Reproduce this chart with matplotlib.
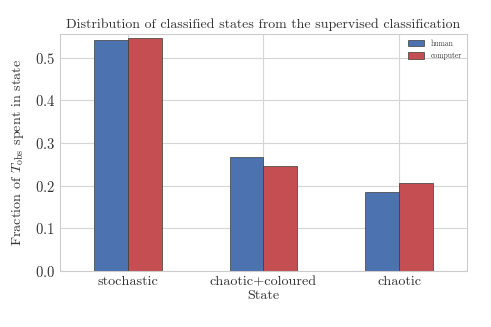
import matplotlib
matplotlib.use('Agg')
import matplotlib.pyplot as plt
import numpy as np

plt.style.use('seaborn-v0_8-whitegrid')
plt.rcParams['font.family'] = ['cmr10']
plt.rcParams['mathtext.fontset'] = 'cm'
plt.rcParams['axes.formatter.use_mathtext'] = True
plt.rcParams['axes.unicode_minus'] = False

states = ['stochastic', 'chaotic+coloured', 'chaotic']
human = [0.542, 0.266, 0.186]
computer = [0.545, 0.245, 0.206]

fig = plt.figure(figsize=(4.91, 3.27), dpi=100)
ax = fig.add_axes([0.122, 0.171, 0.829, 0.725])

x = np.arange(len(states))
w = 0.25
ax.bar(x - w / 2, human, w, color='#4C72B0', edgecolor='#3a3a3a', linewidth=0.5, label='human', zorder=2)
ax.bar(x + w / 2, computer, w, color='#C44E52', edgecolor='#3a3a3a', linewidth=0.5, label='computer', zorder=2)

ax.set_xlim(-0.5, 2.5)
ax.set_ylim(0, 0.555)
ax.set_yticks(np.arange(0, 0.51, 0.1))
ax.set_xticks(x)
ax.set_xticklabels(states, fontsize=10.2, color='#333333')
ax.tick_params(axis='y', labelsize=10.6, labelcolor='#333333')
ax.set_xlabel('State', fontsize=10.2, labelpad=1, color='#333333')
ax.set_ylabel(r'Fraction of $T_{\rm obs}$ spent in state', fontsize=10.2, color='#333333', labelpad=6)
ax.set_title('Distribution of classified states from the supervised classification',
             fontsize=10.0, pad=4, color='#333333')

ax.grid(True, color='#d5d5d5', linewidth=0.8, zorder=0)
for s in ax.spines.values():
    s.set_visible(True)
    s.set_color('#cccccc')
    s.set_linewidth(0.8)

leg = ax.legend(loc='upper right', fontsize=5.5, frameon=False, handlelength=2.2,
                handleheight=0.9, borderaxespad=0.3)
for t in leg.get_texts():
    t.set_color('#333333')

plt.savefig('out.png', dpi=100)
